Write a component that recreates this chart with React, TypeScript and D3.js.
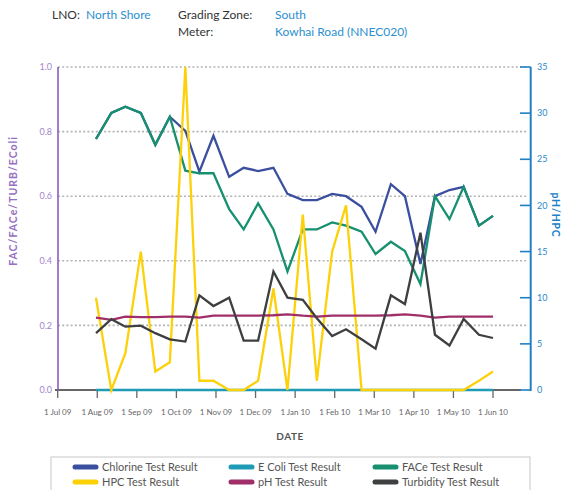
import React from "react";
import * as d3 from "d3";

const dates = [
  "2009-07-31","2009-08-12","2009-08-23","2009-09-04","2009-09-15","2009-09-26",
  "2009-10-08","2009-10-19","2009-10-30","2009-11-11","2009-11-22","2009-12-03",
  "2009-12-15","2009-12-26","2010-01-07","2010-01-18","2010-01-30","2010-02-09",
  "2010-02-20","2010-03-02","2010-03-14","2010-03-25","2010-04-06","2010-04-17",
  "2010-04-28","2010-05-09","2010-05-21","2010-06-01",
];
const chlorine = [0.777,0.858,0.877,0.858,0.759,0.846,0.802,0.676,0.787,0.660,0.688,0.678,0.688,0.607,0.588,0.588,0.607,0.600,0.567,0.490,0.637,0.600,0.390,0.600,0.619,0.629,0.509,0.539];
const ecoli = [0,0,0,0,0,0,0,0,0,0,0,0,0,0,0,0,0,0,0,0,0,0,0,0,0,0,0,0];
const face = [0.777,0.858,0.877,0.858,0.759,0.846,0.679,0.671,0.671,0.560,0.497,0.578,0.497,0.367,0.497,0.497,0.519,0.509,0.490,0.421,0.459,0.430,0.328,0.600,0.529,0.629,0.509,0.539];
const hpc = [10,0,4,15,2,3,35,1,1,0,0,1,11,0,19,1,15,20,0,0,0,0,0,0,0,0,1,2];
const ph = [7.85,7.6,7.95,7.9,7.9,7.95,7.95,7.85,8.05,8.05,8.05,8.05,8.1,8.2,8.05,7.95,8.05,8.05,8.05,8.05,8.1,8.2,8.05,7.85,7.95,7.95,7.95,7.95];
const turbidity = [0.176,0.219,0.196,0.199,0.176,0.157,0.150,0.293,0.260,0.286,0.153,0.153,0.367,0.286,0.279,0.222,0.167,0.188,0.157,0.128,0.293,0.266,0.487,0.171,0.138,0.220,0.171,0.161];

const monthTicks = ["2009-07-01","2009-08-01","2009-09-01","2009-10-01","2009-11-01","2009-12-01","2010-01-01","2010-02-01","2010-03-01","2010-04-01","2010-05-01","2010-06-01"];
const monthLabels = ["1 Jul 09","1 Aug 09","1 Sep 09","1 Oct 09","1 Nov 09","1 Dec 09","1 Jan 10","1 Feb 10","1 Mar 10","1 Apr 10","1 May 10","1 Jun 10"];
const leftTicks = [0, 0.2, 0.4, 0.6, 0.8, 1.0];
const rightTicks = [0, 5, 10, 15, 20, 25, 30, 35];

const seriesDefs = [
  { name: "Chlorine Test Result", values: chlorine, axis: "left", color: "#3a4f9f" },
  { name: "E Coli Test Result", values: ecoli, axis: "left", color: "#1f9bb6" },
  { name: "FACe Test Result", values: face, axis: "left", color: "#16906e" },
  { name: "HPC Test Result", values: hpc, axis: "right", color: "#fdd10a" },
  { name: "pH Test Result", values: ph, axis: "right", color: "#a02e68" },
  { name: "Turbidity Test Result", values: turbidity, axis: "left", color: "#3d3f41" },
];

const FONT = "Lato, 'Open Sans', sans-serif";

function monthPos(s: string): number {
  const [y, m, d] = s.split("-").map(Number);
  const dim = new Date(y, m, 0).getDate();
  return (y - 2009) * 12 + (m - 7) + (d - 1) / dim;
}

export default function App() {
  const x = d3.scaleLinear().domain([0, 11]).range([57.7, 493]);
  const yL = d3.scaleLinear().domain([0, 1]).range([390, 67]);
  const yR = d3.scaleLinear().domain([0, 35]).range([390, 67]);

  const lines = seriesDefs.map((s) => {
    const ys = s.axis === "left" ? yL : yR;
    const gen = d3
      .line<number>()
      .x((_, i) => x(monthPos(dates[i])))
      .y((v) => ys(v));
    return { ...s, d: gen(s.values) || "" };
  });

  const legendCols = [73, 229, 373];
  const legendRows = [467, 482];

  return (
    <svg
      width={567}
      height={490}
      style={{ position: "absolute", left: 0, top: 0, background: "#fff" }}
      fontFamily={FONT}
    >
      {/* header */}
      <g fontSize={12}>
        <text x={52} y={19} fill="#333">LNO:</text>
        <text x={86} y={19} fill="#2b8fd0">North Shore</text>
        <text x={178} y={19} fill="#333">Grading Zone:</text>
        <text x={275} y={19} fill="#2b8fd0">South</text>
        <text x={178} y={36} fill="#333">Meter:</text>
        <text x={275} y={36} fill="#2b8fd0">Kowhai Road (NNEC020)</text>
      </g>

      {/* grid */}
      {leftTicks.filter((t) => t > 0).map((t) => (
        <line key={t} x1={58} x2={527} y1={yL(t)} y2={yL(t)} stroke="#b3b3b3" strokeWidth={1.6} strokeDasharray="2,2.2" />
      ))}

      {/* baseline + x ticks */}
      <line x1={55} x2={521} y1={390} y2={390} stroke="#666" strokeWidth={2} />
      {monthTicks.map((m, i) => (
        <g key={m}>
          <line x1={x(monthPos(m))} x2={x(monthPos(m))} y1={390} y2={398} stroke="#666" strokeWidth={1.3} />
          <text x={x(monthPos(m))} y={415} fontSize={8} fill="#666" textAnchor="middle">{monthLabels[i]}</text>
        </g>
      ))}
      <text x={290} y={440} fontSize={10} fontWeight="bold" fill="#555" textAnchor="middle" letterSpacing={0.5}>DATE</text>

      {/* left axis */}
      <line x1={58} x2={58} y1={67} y2={390} stroke="#8c5cbd" strokeWidth={1.6} />
      {leftTicks.map((t) => (
        <text key={t} x={52} y={yL(t)} dy="0.35em" fontSize={9} fill="#a584cc" textAnchor="end">{t.toFixed(1)}</text>
      ))}
      <text transform="translate(17,201) rotate(-90)" fontSize={10.5} fontWeight="bold" fill="#9470c2" textAnchor="middle" letterSpacing={1}>FAC/FACe/TURB/EColi</text>

      {/* right axis */}
      <line x1={530.7} x2={530.7} y1={67} y2={391} stroke="#2080c6" strokeWidth={2} />
      {rightTicks.map((t) => (
        <g key={t}>
          <line x1={520} x2={530.7} y1={yR(t)} y2={yR(t)} stroke="#2080c6" strokeWidth={1.6} />
          <text x={537} y={yR(t)} dy="0.35em" fontSize={9} fill="#2b88c8">{t}</text>
        </g>
      ))}
      <text transform="translate(552,215) rotate(90)" fontSize={10.5} fontWeight="bold" fill="#2080c6" textAnchor="middle" letterSpacing={0.8}>pH/HPC</text>

      {/* series */}
      {lines.map((l) => (
        <path key={l.name} d={l.d} fill="none" stroke={l.color} strokeWidth={2.3} strokeLinejoin="miter" />
      ))}

      {/* legend */}
      <rect x={51} y={457} width={479} height={40} fill="none" stroke="#c8c8c8" strokeWidth={1} />
      {seriesDefs.map((s, i) => {
        const cx = legendCols[i % 3];
        const cy = legendRows[Math.floor(i / 3)];
        return (
          <g key={s.name}>
            <line x1={cx + 2} x2={cx + 23} y1={cy} y2={cy} stroke={s.color} strokeWidth={5} strokeLinecap="round" />
            <text x={cx + 29} y={cy} dy="0.35em" fontSize={11} fill="#555">{s.name}</text>
          </g>
        );
      })}
    </svg>
  );
}
